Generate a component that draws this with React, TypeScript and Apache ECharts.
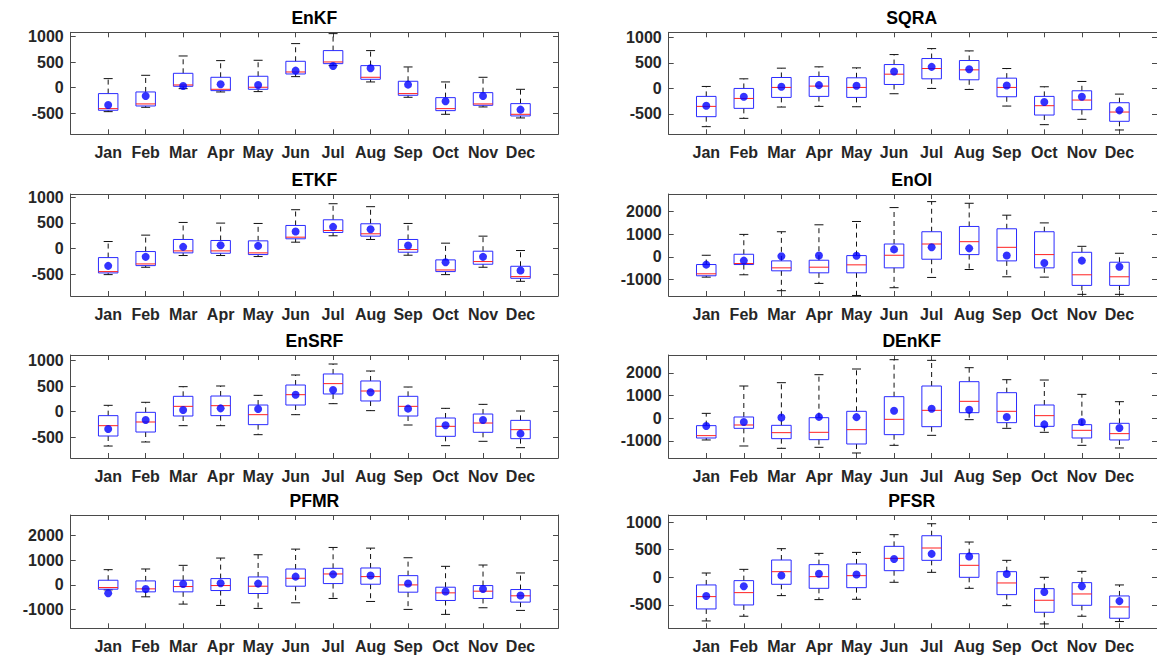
import { useEffect, useRef } from "react";
import * as echarts from "echarts";

// Month labels and their positions on the x axis
const months = ["Jan", "Feb", "Mar", "Apr", "May", "Jun", "Jul", "Aug", "Sep", "Oct", "Nov", "Dec"];
const monthPositions = [1, 2, 3, 4, 5, 6, 7, 8, 9, 10, 11, 12];

// Y tick labels
const ticksSmall = [-500, 0, 500, 1000];
const ticksLarge = [-1000, 0, 1000, 2000];

// Observed monthly values (blue dots), shared by every panel
const observed = [-339, -163, 33, 65, 52, 332, 424, 378, 59, -267, -163, -430];

// Box statistics per month: [lower whisker, Q1, median, Q3, upper whisker]
const enkf = [
  [-470, -443, -411, -117, 176], [-385, -359, -319, -85, 241], [-20, 26, 52, 280, 619],
  [-85, -59, -33, 202, 528], [-78, -33, 7, 222, 535], [215, 267, 306, 515, 861],
  [430, 469, 502, 724, 1056], [111, 163, 202, 430, 724], [-189, -150, -117, 124, 404],
  [-522, -450, -411, -196, 111], [-378, -346, -319, -98, 202], [-593, -554, -522, -313, -33],
];
const sqra = [
  [-750, -554, -352, -156, 39], [-587, -391, -196, 0, 189], [-365, -176, 20, 215, 398],
  [-352, -156, 46, 235, 424], [-359, -176, 20, 209, 404], [-104, 78, 280, 469, 665],
  [0, 189, 391, 587, 782], [-20, 170, 365, 548, 737], [-346, -163, 20, 202, 391],
  [-711, -522, -339, -156, 33], [-606, -417, -228, -46, 137], [-815, -645, -463, -280, -111],
];
const etkf = [
  [-510, -477, -451, -177, 137], [-366, -334, -301, -59, 262], [-137, -85, -46, 177, 510],
  [-137, -92, -46, 157, 497], [-157, -118, -85, 150, 490], [124, 190, 222, 451, 759],
  [249, 314, 353, 562, 876], [177, 242, 288, 484, 818], [-131, -72, -20, 177, 490],
  [-510, -451, -419, -222, 105], [-366, -307, -255, -52, 242], [-641, -582, -549, -347, -39],
];
const enoi = [
  [-891, -832, -745, -336, 73], [-788, -336, -292, 117, 993], [-1489, -613, -482, -175, 1110],
  [-1168, -701, -453, -146, 1416], [-1700, -701, -350, 58, 1562], [-1358, -482, 73, 569, 2175],
  [-905, -102, 569, 1110, 2438], [-555, 102, 672, 1343, 2365], [-876, -175, 423, 1241, 1840],
  [-891, -482, 102, 1110, 1500], [-1650, -1256, -788, 204, 467], [-1650, -1256, -876, -234, 161],
];
const ensrf = [
  [-672, -476, -274, -78, 124], [-593, -398, -202, -13, 183], [-274, -85, 104, 300, 489],
  [-274, -78, 117, 306, 502], [-450, -254, -59, 130, 319], [-59, 130, 332, 521, 717],
  [156, 346, 548, 737, 932], [20, 209, 404, 600, 795], [-261, -85, 104, 300, 482],
  [-665, -482, -287, -124, 65], [-580, -404, -222, -46, 143], [-704, -528, -352, -170, 13],
];
const denkf = [
  [-955, -867, -764, -323, 220], [-1220, -441, -294, 59, 1426], [-1323, -897, -632, -309, 1573],
  [-1279, -941, -617, 29, 1926], [-1529, -1132, -500, 309, 2176], [-1191, -720, -44, 956, 2587],
  [-750, -368, 353, 1426, 2558], [-59, 250, 750, 1617, 2234], [-441, -191, 309, 1132, 1705],
  [-617, -353, 118, 588, 1690], [-1191, -867, -529, -279, 1058], [-1308, -955, -676, -220, 735],
];
const pfmr = [
  [-200, -173, -107, 187, 613], [-480, -280, -160, 160, 640], [-773, -280, -67, 187, 787],
  [-827, -227, -27, 253, 1080], [-947, -347, -53, 320, 1213], [-720, -53, 267, 640, 1440],
  [-547, 53, 440, 667, 1507], [-667, 27, 333, 680, 1480], [-987, -293, 0, 373, 1093],
  [-1187, -627, -320, -93, 747], [-920, -547, -253, -27, 800], [-1027, -693, -440, -187, 480],
];
const pfsr = [
  [-789, -572, -349, -138, 78], [-704, -500, -277, -60, 144], [-331, -126, 102, 313, 518],
  [-403, -199, 12, 229, 433], [-397, -187, 30, 241, 451], [-90, 120, 343, 560, 771],
  [90, 307, 530, 752, 969], [-199, 0, 217, 427, 638], [-512, -313, -102, 102, 307],
  [-843, -632, -415, -205, 0], [-704, -506, -301, -96, 108], [-800, -740, -536, -337, -138],
];

// Panels in reading order (left column, right column, row by row)
const panelNames = ["EnKF", "SQRA", "ETKF", "EnOI", "EnSRF", "DEnKF", "PFMR", "PFSR"];
const panelStats = [enkf, sqra, etkf, enoi, ensrf, denkf, pfmr, pfsr];
const panelYRange = [
  [-913, 1082], [-900, 1102], [-928, 1066], [-1723, 2774],
  [-906, 1108], [-1750, 2794], [-1747, 2813], [-922, 1127],
];
const panelTicks = [ticksSmall, ticksSmall, ticksSmall, ticksLarge, ticksSmall, ticksLarge, ticksLarge, ticksSmall];

// Layout of the 4x2 grid of axes (px)
const columns = [
  { left: 70.7, width: 487.3 },
  { left: 668.7, width: 490 },
];
const rows = [
  { top: 32.3, height: 102 },
  { top: 194, height: 102 },
  { top: 355, height: 103 },
  { top: 515, height: 113.3 },
];

const FONT = '"Liberation Sans", Arial, Helvetica, sans-serif';
const AXIS_COLOR = "#4a4a4a";
const LABEL_COLOR = "#262626";

function buildOption() {
  const grid: any[] = [];
  const xAxis: any[] = [];
  const yAxis: any[] = [];
  const series: any[] = [];
  const graphic: any[] = [];

  panelNames.forEach((name, i) => {
    const col = columns[i % 2];
    const row = rows[Math.floor(i / 2)];
    grid.push({ left: col.left, top: row.top, width: col.width, height: row.height, containLabel: false });

    const lineStyle = { color: AXIS_COLOR, width: 1 };
    const baseX = {
      type: "value",
      gridIndex: i,
      min: 0,
      max: 13,
      splitLine: { show: false },
      axisLine: { show: true, onZero: false, lineStyle },
      axisTick: { show: true, inside: true, length: 5, customValues: monthPositions, lineStyle },
    };
    xAxis.push({
      ...baseX,
      position: "bottom",
      axisLabel: {
        show: true,
        customValues: monthPositions,
        formatter: (v: number) => months[Math.round(v) - 1] ?? "",
        fontFamily: FONT,
        fontSize: 16,
        fontWeight: "bold",
        color: LABEL_COLOR,
        margin: 10,
      },
    });
    xAxis.push({ ...baseX, position: "top", axisLabel: { show: false } });

    const [yMin, yMax] = panelYRange[i];
    const ticks = panelTicks[i];
    const baseY = {
      type: "value",
      gridIndex: i,
      min: yMin,
      max: yMax,
      splitLine: { show: false },
      axisLine: { show: true, onZero: false, lineStyle },
      axisTick: { show: true, inside: true, length: 5, customValues: ticks, lineStyle },
    };
    yAxis.push({
      ...baseY,
      position: "left",
      axisLabel: {
        show: true,
        customValues: ticks,
        formatter: (v: number) => String(v),
        fontFamily: FONT,
        fontSize: 16,
        fontWeight: "bold",
        color: LABEL_COLOR,
        margin: 7,
      },
    });
    yAxis.push({ ...baseY, position: "right", axisLabel: { show: false } });

    const boxData = panelStats[i].map((s, k) => [monthPositions[k], ...s]);
    series.push({
      type: "custom",
      name: name,
      xAxisIndex: 2 * i,
      yAxisIndex: 2 * i,
      data: boxData,
      encode: { x: 0, y: [1, 2, 3, 4, 5] },
      renderItem: (_params: any, api: any) => {
        const x = api.value(0);
        const lo = api.coord([x, api.value(1)]);
        const q1 = api.coord([x, api.value(2)]);
        const med = api.coord([x, api.value(3)]);
        const q3 = api.coord([x, api.value(4)]);
        const hi = api.coord([x, api.value(5)]);
        const unit = api.size([1, 0])[0];
        const cx = q1[0];
        const bw = unit * 0.26;
        const cw = unit * 0.12;
        const whisker = { stroke: "#111", lineWidth: 1, lineDash: [5, 4], fill: null };
        const cap = { stroke: "#111", lineWidth: 1, fill: null };
        return {
          type: "group",
          children: [
            { type: "line", shape: { x1: cx, y1: q3[1], x2: cx, y2: hi[1] }, style: whisker },
            { type: "line", shape: { x1: cx, y1: q1[1], x2: cx, y2: lo[1] }, style: whisker },
            { type: "line", shape: { x1: cx - cw, y1: hi[1], x2: cx + cw, y2: hi[1] }, style: cap },
            { type: "line", shape: { x1: cx - cw, y1: lo[1], x2: cx + cw, y2: lo[1] }, style: cap },
            {
              type: "rect",
              shape: { x: cx - bw, y: q3[1], width: 2 * bw, height: q1[1] - q3[1] },
              style: { fill: "none", stroke: "#2b2bff", lineWidth: 1 },
            },
            {
              type: "line",
              shape: { x1: cx - bw, y1: med[1], x2: cx + bw, y2: med[1] },
              style: { stroke: "#ff2020", lineWidth: 1, fill: null },
            },
          ],
        };
      },
      z: 2,
    });

    series.push({
      type: "scatter",
      name: name + " observed",
      xAxisIndex: 2 * i,
      yAxisIndex: 2 * i,
      data: observed.map((v, k) => [monthPositions[k], v]),
      symbol: "circle",
      symbolSize: 8,
      itemStyle: { color: "#0000ff" },
      z: 3,
    });

    graphic.push({
      type: "text",
      x: col.left + col.width / 2 - (i % 2 === 1 ? 2 : 0),
      y: row.top - 14,
      style: {
        text: name,
        font: `bold 17.6px ${FONT}`,
        fill: "#000",
        textAlign: "center",
        textVerticalAlign: "middle",
        align: "center",
        verticalAlign: "middle",
      },
    });
  });

  return {
    animation: false,
    backgroundColor: "#ffffff",
    grid,
    xAxis,
    yAxis,
    series,
    graphic,
  };
}

export default function App() {
  const ref = useRef<HTMLDivElement>(null);

  useEffect(() => {
    if (!ref.current) return;
    const chart = echarts.init(ref.current, undefined, { renderer: "svg" });
    chart.setOption(buildOption() as any);
    return () => chart.dispose();
  }, []);

  return (
    <div
      ref={ref}
      style={{ position: "fixed", left: 0, top: 0, width: 1157, height: 662, background: "#fff" }}
    />
  );
}
